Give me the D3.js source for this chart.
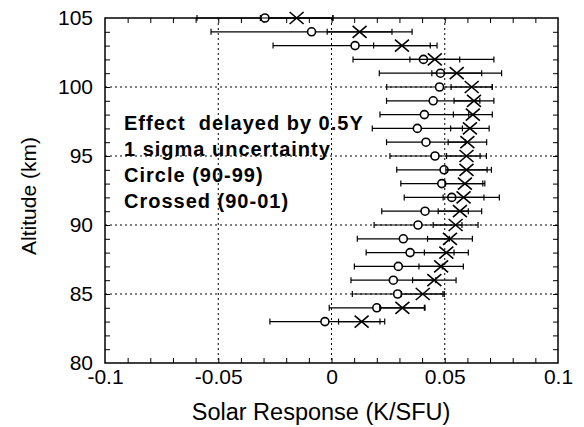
<!DOCTYPE html>
<html>
<head>
<meta charset="utf-8">
<script src="https://cdn.jsdelivr.net/npm/d3@7"></script>
<style>
  body { margin: 0; background: #fff; }
  svg { display: block; font-family: "Liberation Sans", Arial, sans-serif; }
</style>
</head>
<body>
<div id="chart"></div>
<script>
// --- Data ---
const altitudes = [105, 104, 103, 102, 101, 100, 99, 98, 97, 96, 95, 94, 93, 92, 91, 90, 89, 88, 87, 86, 85, 84, 83];
// Circle (90-99)
const circleValues = [-0.0294, -0.0088, 0.0104, 0.0406, 0.0481, 0.0477, 0.0449, 0.041, 0.0379, 0.0417, 0.0457, 0.0497,
  0.0487, 0.0531, 0.0413, 0.0382, 0.0317, 0.0347, 0.0295, 0.0273, 0.0292, 0.020, -0.0029];
const circleErrors = [0.03, 0.0444, 0.0362, 0.0311, 0.027, 0.0233, 0.0206, 0.0196, 0.0199, 0.0174, 0.0199, 0.0209,
  0.0181, 0.021, 0.0191, 0.0194, 0.0203, 0.0194, 0.0194, 0.0187, 0.020, 0.021, 0.0243];
// Crossed (90-01)
const crossValues = [-0.0154, 0.0124, 0.0311, 0.0456, 0.0553, 0.0619, 0.0629, 0.0624, 0.0611, 0.060, 0.0596, 0.0596,
  0.0589, 0.0583, 0.0567, 0.0548, 0.0523, 0.0507, 0.0484, 0.0454, 0.0403, 0.0313, 0.0133];
const crossErrors = [0.016, 0.0143, 0.0125, 0.011, 0.011, 0.0091, 0.0088, 0.0086, 0.0085, 0.0085, 0.0088, 0.0091,
  0.0088, 0.009, 0.0096, 0.0099, 0.0099, 0.0097, 0.0098, 0.0096, 0.0095, 0.010, 0.0102];

const xTicks = [-0.1, -0.05, 0, 0.05, 0.1];
const xTickLabels = ['-0.1', '-0.05', '0', '0.05', '0.1'];
const yTicks = [80, 85, 90, 95, 100, 105];
const legendLines = ['Effect  delayed by 0.5Y', '1 sigma uncertainty', 'Circle (90-99)', 'Crossed (90-01)'];

// --- Layout ---
const width = 584, height = 427;
const margin = {left: 105, right: 26, top: 18, bottom: 64};

const svg = d3.select('#chart').append('svg')
  .attr('width', width)
  .attr('height', height);

const x = d3.scaleLinear().domain([-0.1, 0.1]).range([margin.left, width - margin.right]);
const y = d3.scaleLinear().domain([80, 105]).range([height - margin.bottom, margin.top]);

const x0 = margin.left, x1 = width - margin.right;
const y0 = height - margin.bottom, y1 = margin.top;

// Dotted grid at inner major ticks
svg.append('g').selectAll('line')
  .data(xTicks.slice(1, -1))
  .join('line')
  .attr('x1', d => x(d)).attr('x2', d => x(d))
  .attr('y1', y1).attr('y2', y0)
  .attr('stroke', '#000').attr('stroke-width', 1)
  .attr('stroke-dasharray', '2,3');
svg.append('g').selectAll('line')
  .data(yTicks.slice(1, -1))
  .join('line')
  .attr('y1', d => y(d)).attr('y2', d => y(d))
  .attr('x1', x0).attr('x2', x1)
  .attr('stroke', '#000').attr('stroke-width', 1)
  .attr('stroke-dasharray', '2,3');

// Inward ticks on all four sides
const xMinor = d3.range(-0.09, 0.1, 0.01).map(v => +v.toFixed(2));
const yMinor = d3.range(81, 105, 1);
const tickLen = 5;
svg.append('g').call(d3.axisBottom(x).tickValues(xMinor).tickSize(-tickLen).tickFormat(''))
  .attr('transform', `translate(0,${y0})`)
  .call(g => g.select('.domain').remove());
svg.append('g').call(d3.axisTop(x).tickValues(xMinor).tickSize(-tickLen).tickFormat(''))
  .attr('transform', `translate(0,${y1})`)
  .call(g => g.select('.domain').remove());
svg.append('g').call(d3.axisLeft(y).tickValues(yMinor).tickSize(-tickLen).tickFormat(''))
  .attr('transform', `translate(${x0},0)`)
  .call(g => g.select('.domain').remove());
svg.append('g').call(d3.axisRight(y).tickValues(yMinor).tickSize(-tickLen).tickFormat(''))
  .attr('transform', `translate(${x1},0)`)
  .call(g => g.select('.domain').remove());

// Tick labels
svg.append('g').call(d3.axisBottom(x).tickValues(xTicks).tickSize(0).tickPadding(6)
    .tickFormat((d, i) => xTickLabels[i]))
  .attr('transform', `translate(0,${y0})`)
  .call(g => g.select('.domain').remove())
  .call(g => g.selectAll('text').attr('font-size', 21).attr('fill', '#000').attr('font-family', null));
svg.append('g').call(d3.axisLeft(y).tickValues(yTicks).tickSize(0).tickPadding(12))
  .attr('transform', `translate(${x0},0)`)
  .call(g => g.select('.domain').remove())
  .call(g => g.selectAll('text').attr('font-size', 21).attr('fill', '#000').attr('font-family', null));

// Frame
svg.append('rect')
  .attr('x', x0).attr('y', y1)
  .attr('width', x1 - x0).attr('height', y0 - y1)
  .attr('fill', 'none').attr('stroke', '#000').attr('stroke-width', 1.5);

// Axis titles
svg.append('text')
  .attr('x', 321).attr('y', 420)
  .attr('text-anchor', 'middle').attr('font-size', 23.5)
  .text('Solar Response (K/SFU)');
svg.append('text')
  .attr('transform', `translate(36,196) rotate(-90)`)
  .attr('text-anchor', 'middle').attr('font-size', 21)
  .text('Altitude (km)');

// Error bars + markers
function drawSeries(values, errors, cls) {
  const rows = altitudes.map((a, i) => ({alt: a, v: values[i], e: errors[i]}));
  const g = svg.append('g').attr('class', cls)
    .attr('stroke', '#000').attr('fill', 'none');
  g.selectAll('.bar').data(rows).join('line')
    .attr('x1', d => x(d.v - d.e)).attr('x2', d => x(d.v + d.e))
    .attr('y1', d => y(d.alt)).attr('y2', d => y(d.alt))
    .attr('stroke-width', 1.2);
  g.selectAll('.capl').data(rows).join('line')
    .attr('x1', d => x(d.v - d.e)).attr('x2', d => x(d.v - d.e))
    .attr('y1', d => y(d.alt) - 3).attr('y2', d => y(d.alt) + 3)
    .attr('stroke-width', 1.2);
  g.selectAll('.capr').data(rows).join('line')
    .attr('x1', d => x(d.v + d.e)).attr('x2', d => x(d.v + d.e))
    .attr('y1', d => y(d.alt) - 3).attr('y2', d => y(d.alt) + 3)
    .attr('stroke-width', 1.2);
  return {g, rows};
}

const circ = drawSeries(circleValues, circleErrors, 'circle-series');
const crs = drawSeries(crossValues, crossErrors, 'cross-series');

circ.g.selectAll('circle').data(circ.rows).join('circle')
  .attr('cx', d => x(d.v)).attr('cy', d => y(d.alt))
  .attr('r', 4).attr('fill', '#fff').attr('stroke-width', 1.6);

crs.g.selectAll('path.x').data(crs.rows).join('path')
  .attr('class', 'x')
  .attr('d', d => {
    const cx = x(d.v), cy = y(d.alt), w = 7, h = 6;
    return `M${cx - w},${cy - h}L${cx + w},${cy + h}M${cx - w},${cy + h}L${cx + w},${cy - h}`;
  })
  .attr('stroke-width', 1.6);

// Annotation text
svg.append('g').selectAll('text')
  .data(legendLines)
  .join('text')
  .attr('x', 124)
  .attr('y', (d, i) => 129.5 + i * 26.3)
  .attr('font-size', 20).attr('font-weight', 'bold')
  .attr('letter-spacing', 1)
  .style('white-space', 'pre')
  .text(d => d);
</script>
</body>
</html>
